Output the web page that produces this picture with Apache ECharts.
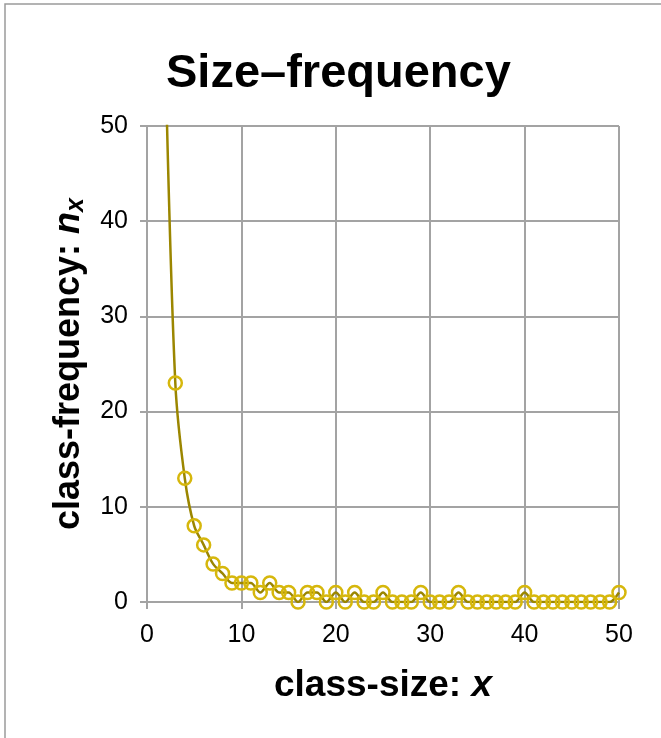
<!DOCTYPE html>
<html>
<head>
<meta charset="utf-8">
<script src="https://cdn.jsdelivr.net/npm/echarts@6/dist/echarts.min.js"></script>
<style>
html,body{margin:0;padding:0;background:#fff;}
#chart{width:661px;height:738px;}
</style>
</head>
<body>
<div id="chart"></div>
<script>
// class sizes (x) and class frequencies (n_x)
var classSize = [2, 3, 4, 5, 6, 7, 8, 9, 10, 11, 12, 13, 14, 15, 16, 17, 18, 19, 20,
  21, 22, 23, 24, 25, 26, 27, 28, 29, 30, 31, 32, 33, 34, 35, 36, 37, 38, 39, 40,
  41, 42, 43, 44, 45, 46, 47, 48, 49, 50];
var classFreq = [55, 23, 13, 8, 6, 4, 3, 2, 2, 2, 1, 2, 1, 1, 0, 1, 1, 0, 1,
  0, 1, 0, 0, 1, 0, 0, 0, 1, 0, 0, 0, 1, 0, 0, 0, 0, 0, 0, 1,
  0, 0, 0, 0, 0, 0, 0, 0, 0, 1];
var xTicks = [0, 10, 20, 30, 40, 50];
var yTicks = [0, 10, 20, 30, 40, 50];

var FONT = '"Liberation Sans", Arial, Helvetica, sans-serif';
var points = classSize.map(function (x, i) { return [x, classFreq[i]]; });

var chart = echarts.init(document.getElementById('chart'), null, {renderer: 'canvas'});
chart.setOption({
  backgroundColor: '#ffffff',
  animation: false,
  graphic: [{
    type: 'rect',
    shape: {x: 5, y: 4, width: 700, height: 800},
    style: {fill: 'none', stroke: '#9a9a9a', lineWidth: 1.5},
    silent: true
  }],
  title: {
    text: 'Size\u2013frequency',
    left: 161,
    top: 46,
    textStyle: {fontFamily: FONT, fontSize: 47, fontWeight: 'bold', color: '#000'}
  },
  grid: {left: 147, right: 42, top: 126, bottom: 136, containLabel: false},
  xAxis: {
    type: 'value',
    min: xTicks[0], max: xTicks[xTicks.length - 1], interval: 10,
    name: 'class-size: {i|x}',
    nameLocation: 'middle',
    nameGap: 65,
    nameTextStyle: {
      fontFamily: FONT, fontSize: 37, fontWeight: 'bold', color: '#000',
      rich: {i: {fontFamily: FONT, fontSize: 37, fontWeight: 'bold', fontStyle: 'italic', color: '#000'}}
    },
    axisLine: {show: true, lineStyle: {color: '#a3a3a3', width: 2}},
    axisTick: {show: true, length: 7, lineStyle: {color: '#a3a3a3', width: 2}},
    axisLabel: {fontFamily: FONT, fontSize: 25, color: '#000', margin: 21},
    splitLine: {show: true, lineStyle: {color: '#a3a3a3', width: 2}}
  },
  yAxis: {
    type: 'value',
    min: yTicks[0], max: yTicks[yTicks.length - 1], interval: 10,
    name: 'class-frequency: {i|n}{sub|x}',
    nameLocation: 'middle',
    nameGap: 58,
    nameTextStyle: {
      fontFamily: FONT, fontSize: 36, fontWeight: 'bold', color: '#000', lineHeight: 40,
      rich: {
        i: {fontFamily: FONT, fontSize: 36, fontWeight: 'bold', fontStyle: 'italic', color: '#000', lineHeight: 40},
        sub: {fontFamily: FONT, fontSize: 25, fontWeight: 'bold', fontStyle: 'italic', color: '#000', verticalAlign: 'bottom', lineHeight: 24}
      }
    },
    axisLine: {show: true, lineStyle: {color: '#a3a3a3', width: 2}},
    axisTick: {show: true, length: 7, lineStyle: {color: '#a3a3a3', width: 2}},
    axisLabel: {fontFamily: FONT, fontSize: 25, color: '#000', margin: 19},
    splitLine: {show: true, lineStyle: {color: '#a3a3a3', width: 2}}
  },
  series: [{
    type: 'line',
    data: points,
    smooth: 0.3,
    clip: true,
    showAllSymbol: true,
    symbol: 'circle',
    symbolSize: 13,
    lineStyle: {color: '#9b8600', width: 2.5},
    itemStyle: {color: 'rgba(255,255,255,0)', borderColor: '#d6b70c', borderWidth: 2.5},
    z: 3
  }]
});
</script>
</body>
</html>
